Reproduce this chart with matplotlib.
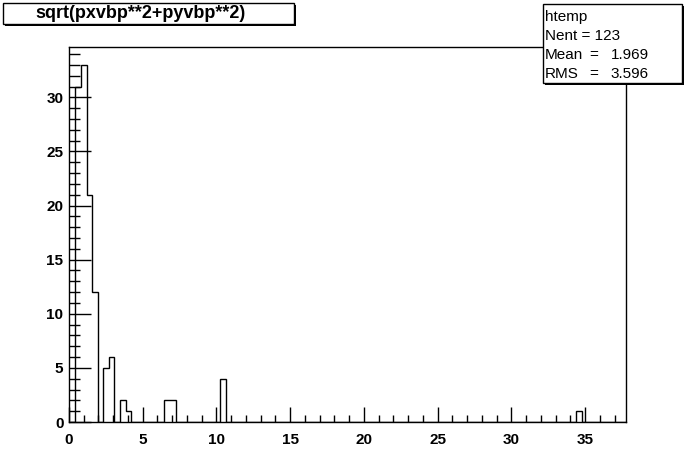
import numpy as np
import matplotlib
matplotlib.use("Agg")
import matplotlib.pyplot as plt
from matplotlib.patches import Rectangle

# ---- data ----
x_min = 0.063
x_max = 37.763
n_bins = 100
filled_bins = [2, 3, 4, 5, 7, 8, 10, 11, 18, 19, 28, 92]   # 1-based bin numbers
filled_counts = [31, 33, 21, 12, 5, 6, 2, 1, 2, 2, 4, 1]
x_ticks = [0, 5, 10, 15, 20, 25, 30, 35]
y_ticks = [0, 5, 10, 15, 20, 25, 30]
title_text = "sqrt(pxvbp**2+pyvbp**2)"
stats_name = "htemp"
stats_nent = "123"
stats_mean = "1.969"
stats_rms = "3.596"

W, H = 696, 472
fig = plt.figure(figsize=(W / 100, H / 100), dpi=100)
plt.rcParams['font.family'] = ['Liberation Sans', 'DejaVu Sans']

def fx(px):
    return px / W

def fy(py):
    return 1 - py / H

L, R, T, B = 69, 626, 47, 422
ax = fig.add_axes([fx(L), fy(B), fx(R) - fx(L), fy(T) - fy(B)])

edges = np.linspace(x_min, x_max, n_bins + 1)
counts = np.zeros(n_bins)
for b, c in zip(filled_bins, filled_counts):
    counts[b - 1] = c
ax.stairs(counts, edges, color='black', linewidth=1.0, baseline=0)

ymax = 1.05 * max(filled_counts)
ax.set_xlim(x_min, x_max)
ax.set_ylim(0, ymax)

for s in ax.spines.values():
    s.set_linewidth(1.0)
    s.set_color('black')

ax.set_xticks(x_ticks)
ax.set_xticks(np.arange(1, 38, 1), minor=True)
ax.set_yticks(y_ticks)
ax.set_yticks(np.arange(1, 35, 1), minor=True)
ax.tick_params(axis='x', which='major', direction='in', length=11, width=1,
               pad=8, labelsize=11)
ax.tick_params(axis='x', which='minor', direction='in', length=5, width=1)
ax.tick_params(axis='y', which='major', direction='in', length=16, width=1,
               pad=4, labelsize=11)
ax.tick_params(axis='y', which='minor', direction='in', length=8, width=1)
for lab in ax.get_xticklabels() + ax.get_yticklabels():
    lab.set_fontweight('bold')

# ---- boxes ----
def box(x0, y0, x1, y1, shadow=2):
    fig.patches.append(Rectangle((fx(x0 + shadow), fy(y1 + shadow)),
                                 fx(x1 - x0), fy(y0) - fy(y1),
                                 transform=fig.transFigure, facecolor='black',
                                 edgecolor='black', linewidth=0, zorder=5))
    fig.patches.append(Rectangle((fx(x0), fy(y1)), fx(x1 - x0), fy(y0) - fy(y1),
                                 transform=fig.transFigure, facecolor='white',
                                 edgecolor='black', linewidth=1.0, zorder=6))

box(3, 3, 294, 24)
fig.text(fx(141), fy(14), title_text, ha='center', va='center',
         fontsize=13, fontweight='bold', zorder=7)

box(543, 4, 682, 83)
tx = 545
fs = 11
fig.text(fx(tx), fy(17), stats_name, ha='left', va='center', fontsize=fs, zorder=7)
fig.text(fx(tx), fy(36), "Nent = " + stats_nent, ha='left', va='center',
         fontsize=fs, zorder=7)
fig.text(fx(tx), fy(55), "Mean", ha='left', va='center', fontsize=fs, zorder=7)
fig.text(fx(594), fy(55), "=", ha='center', va='center', fontsize=fs, zorder=7)
fig.text(fx(649), fy(55), stats_mean, ha='right', va='center', fontsize=fs, zorder=7)
fig.text(fx(tx), fy(74), "RMS", ha='left', va='center', fontsize=fs, zorder=7)
fig.text(fx(594), fy(74), "=", ha='center', va='center', fontsize=fs, zorder=7)
fig.text(fx(649), fy(74), stats_rms, ha='right', va='center', fontsize=fs, zorder=7)

fig.savefig("out.png", dpi=100, facecolor='white')
